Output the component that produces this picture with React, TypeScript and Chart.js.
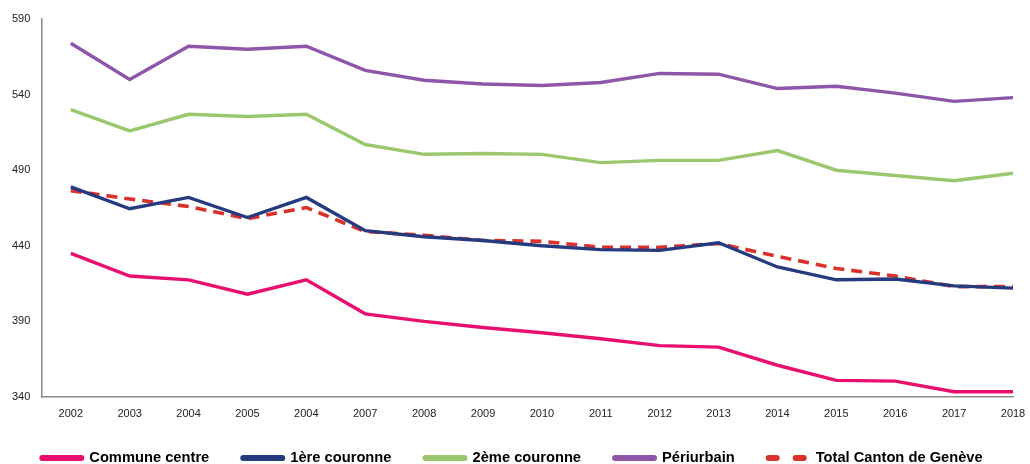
import React, { useEffect, useRef } from 'react';
import { Chart, registerables } from 'chart.js';

Chart.register(...registerables);

const years = ['2002', '2003', '2004', '2005', '2004', '2007', '2008', '2009', '2010', '2011', '2012', '2013', '2014', '2015', '2016', '2017', '2018'];

const communeCentre = [435, 420, 417.5, 408, 417.5, 395, 390, 386, 382.5, 378.5, 374, 373, 361, 351, 350.5, 343.5, 343.5];
const premiereCouronne = [479, 464.5, 472, 458.7, 472, 450, 446, 443.5, 440, 437.5, 437, 442, 426, 417.5, 418, 413.5, 412];
const deuxiemeCouronne = [530, 516, 527, 525.5, 527, 507, 500.5, 501, 500.5, 495, 496.5, 496.5, 503, 490, 486.5, 483, 488];
const periurbain = [574, 550, 572, 570, 572, 556, 549.5, 547, 546, 548, 554, 553.5, 544, 545.5, 541, 535.5, 538];
const totalCanton = [476.5, 471, 466, 458, 465.3, 449.4, 447, 443.5, 443, 439, 439, 441.5, 433, 425, 420, 413, 413];

const yTicks = [340, 390, 440, 490, 540, 590];

const toPoints = (arr: number[]) => arr.map((v, i) => ({ x: i, y: v }));

const FONT = '"Liberation Sans", Arial, sans-serif';

const customLegend = {
  id: 'customLegend',
  afterDraw(chart: any) {
    const ctx = chart.ctx as CanvasRenderingContext2D;
    ctx.save();
    ctx.font = `bold 14.7px ${FONT}`;
    ctx.textBaseline = 'middle';
    const lineLen = 39;
    const cap = 3;
    const textGap = 5;
    const itemGap = 31;
    const items = chart.data.datasets.map((ds: any) => ({
      label: ds.label as string,
      color: ds.borderColor as string,
      dashed: (ds.borderDash || []).length > 0,
      w: ctx.measureText(ds.label).width,
    }));
    const itemW = (it: any) => cap * 2 + lineLen + textGap + it.w;
    const total = items.reduce((s: number, it: any) => s + itemW(it), 0) + itemGap * (items.length - 1);
    let x = chart.width / 2 - 4 - total / 2;
    const y = 458;
    items.forEach((it: any) => {
      ctx.beginPath();
      ctx.strokeStyle = it.color;
      ctx.lineWidth = 6;
      ctx.lineCap = 'round';
      ctx.setLineDash(it.dashed ? [8, 19] : []);
      ctx.moveTo(x + cap, y);
      ctx.lineTo(x + cap + lineLen, y);
      ctx.stroke();
      ctx.setLineDash([]);
      ctx.fillStyle = '#000';
      ctx.textAlign = 'left';
      ctx.fillText(it.label, x + cap * 2 + lineLen + textGap, y);
      x += itemW(it) + itemGap;
    });
    ctx.restore();
  },
};

export default function App() {
  const ref = useRef<HTMLCanvasElement | null>(null);

  useEffect(() => {
    if (!ref.current) return;
    const mk = (label: string, data: number[], color: string, dashed = false) => ({
      label,
      data: toPoints(data),
      borderColor: color,
      backgroundColor: color,
      borderWidth: dashed ? 3.6 : 3.4,
      borderDash: dashed ? [11, 7] : [],
      pointRadius: 0,
      pointHoverRadius: 0,
      tension: 0,
      fill: false,
    });
    const chart = new Chart(ref.current, {
      type: 'line',
      data: {
        datasets: [
          mk('Commune centre', communeCentre, '#E8106E'),
          mk('1ère couronne', premiereCouronne, '#263A7F'),
          mk('2ème couronne', deuxiemeCouronne, '#9BC86E'),
          mk('Périurbain', periurbain, '#8E56A8'),
          mk('Total Canton de Genève', totalCanton, '#D9312B', true),
        ],
      },
      plugins: [customLegend],
      options: {
        animation: false,
        responsive: true,
        maintainAspectRatio: false,
        layout: { padding: { top: 19, left: 1, right: 0, bottom: 34 } },
        plugins: {
          tooltip: { enabled: false },
          legend: { display: false },
        },
        scales: {
          x: {
            type: 'linear',
            min: -0.5,
            max: years.length - 1,
            grid: { display: false, drawTicks: false },
            border: { display: true, color: '#8c8c8c', width: 1.5 },
            afterBuildTicks: (scale: any) => {
              scale.ticks = years.map((_, i) => ({ value: i }));
            },
            afterFit: (scale: any) => {
              scale.paddingRight = 17;
            },
            ticks: {
              autoSkip: false,
              maxRotation: 0,
              padding: 11,
              color: '#222',
              font: { family: FONT, size: 11, lineHeight: 1 },
              callback: (v: any) => years[v] ?? '',
            },
          },
          y: {
            min: 340,
            max: 590,
            grid: { display: false, drawTicks: false },
            border: { display: true, color: '#8c8c8c', width: 1.5 },
            afterBuildTicks: (scale: any) => {
              scale.ticks = yTicks.map((v) => ({ value: v }));
            },
            ticks: {
              padding: 11,
              color: '#222',
              font: { family: FONT, size: 11 },
            },
          },
        },
      },
    } as any);
    return () => chart.destroy();
  }, []);

  return (
    <div style={{ position: 'fixed', left: 0, top: 0, width: 1030, height: 464, background: '#fff' }}>
      <canvas ref={ref} />
    </div>
  );
}
